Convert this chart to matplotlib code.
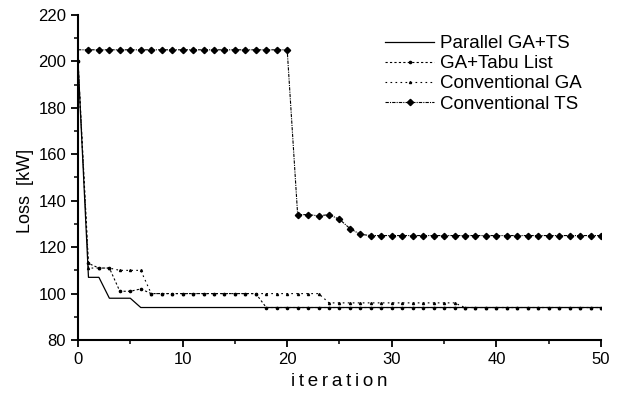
import numpy as np
import matplotlib
matplotlib.use("Agg")
import matplotlib.pyplot as plt
from matplotlib.ticker import MultipleLocator

plt.rcParams["font.family"] = ["Liberation Sans", "DejaVu Sans"]

iters = list(range(0, 51))

# values
parallel_ga_ts = [200, 107, 107, 98, 98, 98] + [94] * 45
ga_tabu = [200, 113, 111, 111, 101, 101, 102] + [100] * 11 + [94] * 33
conv_ga = [200, 111, 111, 111, 110, 110, 110] + [100] * 17 + [96] * 13 + [94] * 14
conv_ts = [205] * 21 + [134, 134, 133.5, 134, 132, 128, 125.5] + [125] * 23

fig = plt.figure(figsize=(6.22, 3.94), dpi=100)
ax = fig.add_axes([0.1254, 0.137, 0.8408, 0.825])

ax.plot(iters, parallel_ga_ts, color="black", lw=0.9, label="Parallel GA+TS")
ax.plot(iters, ga_tabu, color="black", lw=0.8, ls=(0, (2, 2)),
        marker="o", ms=1.6, label="GA+Tabu List")
ax.plot(iters, conv_ga, color="black", lw=0.8, ls=(0, (1.5, 3)),
        marker="^", ms=1.5, label="Conventional GA")
ax.plot(iters, conv_ts, color="black", lw=0.8, ls=(0, (3, 1, 1, 1)),
        marker="D", ms=3.2, markevery=range(1, 51), label="Conventional TS")

ax.set_xlim(0, 50)
ax.set_ylim(80, 220)
ax.xaxis.set_major_locator(MultipleLocator(10))
ax.xaxis.set_minor_locator(MultipleLocator(5))
ax.yaxis.set_major_locator(MultipleLocator(20))
ax.yaxis.set_minor_locator(MultipleLocator(10))
ax.spines["top"].set_visible(False)
ax.spines["right"].set_visible(False)
ax.spines["left"].set_linewidth(1.5)
ax.spines["bottom"].set_linewidth(1.5)
ax.tick_params(which="major", direction="out", length=5, width=1.3, labelsize=12)
ax.tick_params(which="minor", direction="out", length=3, width=1.1)

ax.set_xlabel("\u2009".join("iteration"), fontsize=13.5)
ax.xaxis.set_label_coords(0.5, -0.1)
ax.set_ylabel("Loss  [kW]", fontsize=13)
ax.yaxis.set_label_coords(-0.085, 0.46)

ax.legend(loc="upper left", bbox_to_anchor=(0.555, 0.99), frameon=False,
          fontsize=13.5, handlelength=2.6, labelspacing=0.16, handletextpad=0.3)

fig.savefig("out.png", dpi=100)
